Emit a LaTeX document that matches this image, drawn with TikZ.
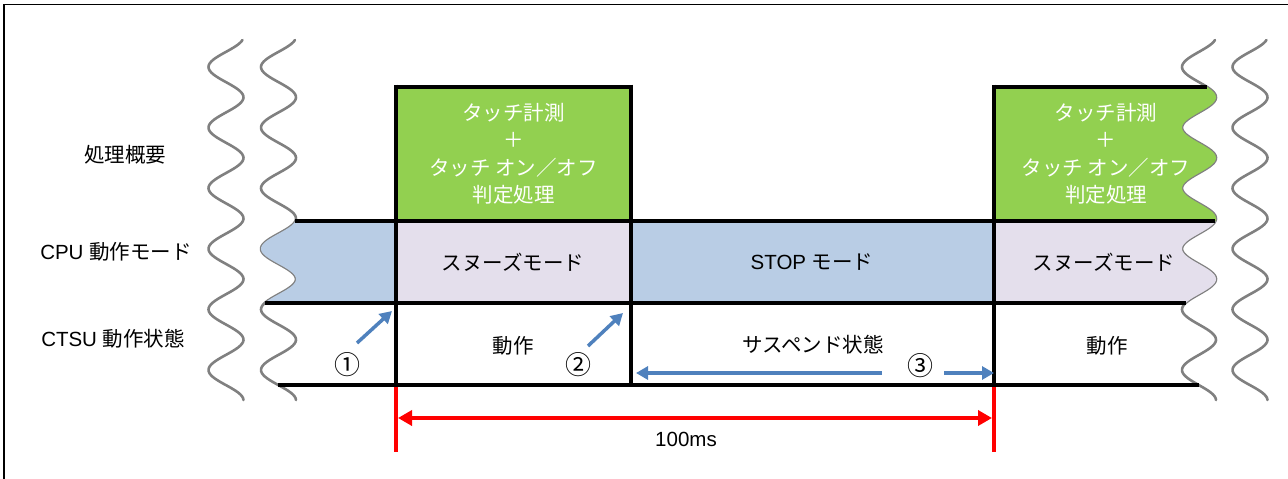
\documentclass[tikz,border=0pt]{standalone}
\usepackage{fontspec}
\setmainfont{Liberation Sans}
\newfontfamily\jp{Noto Sans CJK JP}
\usetikzlibrary{arrows.meta}
\definecolor{wavegray}{HTML}{808080}
\definecolor{cpublue}{HTML}{B9CDE5}
\definecolor{snzlav}{HTML}{E4DFEC}
\definecolor{procgreen}{HTML}{92D050}
\definecolor{arrblue}{HTML}{4F81BD}
\definecolor{dimred}{HTML}{FF0000}
\tikzset{
  wavestyle/.style={draw=wavegray, line width=2.6pt, line cap=round},
  blackline/.style={draw=black, line width=4.8pt},
  lbl/.style={font=\fontsize{20.5}{27.5}\selectfont, inner sep=0pt, align=center},
  wlbl/.style={lbl, text=white},
  numlbl/.style={font=\jp\fontsize{26}{30}\selectfont, inner sep=0pt},
  bluearrow/.style={draw=arrblue, line width=3.5pt, -{Triangle[length=12pt,width=13pt]}},
  redline/.style={draw=dimred, line width=4pt},
  redarrow/.style={draw=dimred, line width=4pt, {Triangle[length=14pt,width=15pt]}-{Triangle[length=14pt,width=15pt]}},
  declare function={wv(\t)=cos(5.9406*(\t-67));}
}
\begin{document}
\begin{tikzpicture}[x=1pt,y=-1pt]
\useasboundingbox (0,0) rectangle (1288,479);
% frame (top and left only)
\draw[line width=1.3pt] (4,479) -- (4,4.5) -- (1288,4.5);

% wavy break lines
\draw[wavestyle] plot[domain=40:400, samples=200, variable=\t] ({226-17.5*wv(\t)},\t);
\draw[wavestyle] plot[domain=40:400, samples=200, variable=\t] ({278.5-17.5*wv(\t)},\t);
\draw[wavestyle] plot[domain=40:400, samples=200, variable=\t] ({1199-17*wv(\t)},\t);
\draw[wavestyle] plot[domain=40:400, samples=200, variable=\t] ({1250-17.5*wv(\t)},\t);

% fills
\fill[cpublue] plot[domain=221:303, samples=60, variable=\t] ({278.5-17.5*wv(\t)},\t) -- (396,303) -- (396,221) -- cycle;
\fill[procgreen] (396,87) rectangle (631,221);
\fill[snzlav] (396,221) rectangle (631,303);
\fill[cpublue] (631,221) rectangle (994,303);
\fill[procgreen] (994,87) -- plot[domain=87:221, samples=60, variable=\t] ({1199-17*wv(\t)},\t) -- (994,221) -- cycle;
\fill[snzlav] (994,221) -- plot[domain=221:303, samples=60, variable=\t] ({1199-17*wv(\t)},\t) -- (994,303) -- cycle;

% black grid lines
\draw[blackline] (396,87) -- (631,87);
\draw[blackline] (994,87) -- ({1199-17*wv(87)},87);
\draw[blackline] ({278.5-17.5*wv(221)},221) -- ({1199-17*wv(221)},221);
\draw[blackline] ({278.5-17.5*wv(303)},303) -- ({1199-17*wv(303)},303);
\draw[blackline] ({278.5-17.5*wv(385)},385) -- ({1199-17*wv(385)},385);
\draw[blackline] (396,84.6) -- (396,387.4);
\draw[blackline] (631,84.6) -- (631,387.4);
\draw[blackline] (994,84.6) -- (994,387.4);

% row labels
\node[lbl] (rowproc) at (125,155) {\jp 処理概要};
\node[lbl] (rowcpu) at (116,252) {CPU {\jp 動作モード}};
\node[lbl] (rowctsu) at (113,339) {CTSU {\jp 動作状態}};

% processing boxes
\node[wlbl] (proc1) at (513.5,154) {\jp タッチ計測\\\jp ＋\\\jp タッチ オン／オフ\\\jp 判定処理};
\node[wlbl] (proc2) at (1106,154) {\jp タッチ計測\\\jp ＋\\\jp タッチ オン／オフ\\\jp 判定処理};

% CPU modes
\node[lbl] (snz1) at (513,262) {\jp スヌーズモード};
\node[lbl] (stop) at (812,262) {STOP {\jp モード}};
\node[lbl] (snz2) at (1104,262) {\jp スヌーズモード};

% CTSU states
\node[lbl] (op1) at (513,346) {\jp 動作};
\node[lbl] (susp) at (813,345) {\jp サスペンド状態};
\node[lbl] (op2) at (1107,346) {\jp 動作};

% numbered markers and arrows
\node[numlbl] (n1) at (347,365) {①};
\node[numlbl] (n2) at (578,365) {②};
\node[numlbl] (n3) at (920,366) {③};
\coordinate (a1s) at (357,343);
\coordinate (a1e) at (392,311);
\coordinate (a2s) at (588,346);
\coordinate (a2e) at (623,313);
\coordinate (a3s) at (882,373);
\coordinate (a3e) at (636,373);
\coordinate (a4s) at (944,373);
\coordinate (a4e) at (994,373);
\draw[bluearrow] (a1s) -- (a1e);
\draw[bluearrow] (a2s) -- (a2e);
\draw[bluearrow] (a3s) -- (a3e);
\draw[bluearrow] (a4s) -- (a4e);

% 100ms dimension
\coordinate (d1t) at (396,387);
\coordinate (d1b) at (396,452);
\coordinate (d2t) at (994,387);
\coordinate (d2b) at (994,452);
\coordinate (dl) at (398,418);
\coordinate (dr) at (992,418);
\draw[redline] (d1t) -- (d1b);
\draw[redline] (d2t) -- (d2b);
\draw[redarrow] (dl) -- (dr);
\node[lbl] (dimlbl) at (686,439) {100ms};
\end{tikzpicture}
\end{document}
